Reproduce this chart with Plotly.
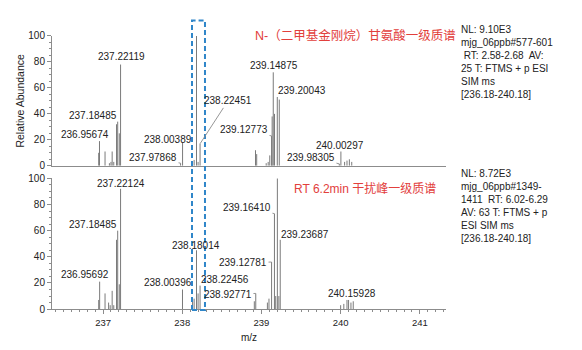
import plotly.graph_objects as go

# ---------------- data ----------------
# top spectrum (N-(dimethyladamantyl)glycine, RT 2.58-2.68)
top_mz = [236.945, 236.955, 237.025, 237.080, 237.100, 237.115, 237.135,
          237.170, 237.185, 237.205, 237.221, 237.979, 238.004, 238.120, 238.150,
          238.180, 238.200, 238.225, 238.925, 238.940, 239.060, 239.085,
          239.105, 239.128, 239.135, 239.149, 239.165, 239.200, 239.225,
          239.983, 240.003, 240.050, 240.080, 240.110, 240.140]
top_int = [10, 19, 11, 2, 3, 11, 3,
           32, 34, 25, 78, 2, 18, 2, 4.5,
           100, 3, 17, 12, 9, 2, 3,
           8, 23, 38, 72, 40, 53, 51,
           1.5, 11, 3, 4, 5, 3]

# bottom spectrum (RT 6.2 min interfering peak)
bot_mz = [236.945, 236.957, 237.025, 237.070, 237.090, 237.115, 237.135,
          237.170, 237.185, 237.205, 237.221, 238.003, 238.130, 238.150,
          238.180, 238.200, 238.225, 238.910, 238.928, 239.075, 239.095,
          239.128, 239.164, 239.180, 239.201, 239.220, 239.237,
          240.000, 240.040, 240.080, 240.100, 240.130, 240.159]
bot_int = [7, 21, 12, 5, 3, 14, 3,
           53, 60, 19, 92, 15, 8, 8,
           45, 12, 18, 6, 12, 5, 8,
           36, 73, 10, 100, 10, 53,
           3, 4, 7, 7, 5, 6]

# labels: (text, peak m/z, peak intensity, text m/z, text intensity, leader line)
top_labels = [
    ("238.18002", 238.180, 100, 238.173, 104.5, False),
    ("237.22119", 237.221, 78, 237.227, 84.3, False),
    ("237.18485", 237.185, 34, 236.874, 38.8, True),
    ("236.95674", 236.955, 19, 236.773, 23.9, False),
    ("238.00389", 238.004, 18, 237.820, 20.1, True),
    ("237.97868", 237.979, 2, 237.631, 6.0, True),
    ("238.22451", 238.225, 17, 238.577, 50.0, True),
    ("239.12773", 239.128, 23, 238.780, 27.6, True),
    ("239.14875", 239.149, 72, 239.158, 76.9, False),
    ("239.20043", 239.200, 53, 239.511, 58.2, True),
    ("240.00297", 240.003, 11, 239.990, 15.7, False),
    ("239.98305", 239.983, 1.5, 239.625, 6.7, True),
]
bot_labels = [
    ("239.20052", 239.201, 100, 239.196, 105.9, False),
    ("237.22124", 237.221, 92, 237.227, 96.3, False),
    ("237.18485", 237.185, 60, 236.874, 64.4, True),
    ("236.95692", 236.957, 21, 236.773, 26.7, False),
    ("238.00396", 238.003, 15, 237.820, 20.0, True),
    ("238.18014", 238.180, 45, 238.173, 48.9, False),
    ("238.22456", 238.225, 18, 238.539, 23.0, True),
    ("238.92771", 238.928, 12, 238.577, 11.1, True),
    ("239.12781", 239.128, 36, 238.767, 35.6, True),
    ("239.16410", 239.164, 73, 238.817, 77.8, True),
    ("239.23687", 239.237, 53, 239.549, 57.0, True),
    ("240.15928", 240.159, 6, 240.142, 11.9, False),
]

x_ticks = [237, 238, 239, 240, 241]
y_ticks = [0, 20, 40, 60, 80, 100]

top_title = "N-（二甲基金刚烷）甘氨酸一级质谱"
bot_title = "RT 6.2min 干扰峰一级质谱"
top_info = "NL: 9.10E3<br>mjg_06ppb#577-601<br> RT: 2.58-2.68  AV:<br>25 T: FTMS + p ESI<br>SIM ms<br>[236.18-240.18]"
bot_info = "NL: 8.72E3<br>mjg_06ppb#1349-<br>1411  RT: 6.02-6.29<br>AV: 63 T: FTMS + p<br>ESI SIM ms<br>[236.18-240.18]"

FONT = "Liberation Sans, Arial, Noto Sans CJK SC, sans-serif"
PEAK = "#7a7a7a"
AXIS = "#8c8c8c"
TXT = "#222222"


def sticks(mz, inten):
    xs, ys = [], []
    for m, h in zip(mz, inten):
        xs += [m, m, None]
        ys += [0, h, None]
    return xs, ys


fig = go.Figure()
tx, ty = sticks(top_mz, top_int)
bx, by = sticks(bot_mz, bot_int)
fig.add_trace(go.Scatter(x=tx, y=ty, mode="lines", line=dict(color=PEAK, width=1),
                         xaxis="x", yaxis="y", hoverinfo="skip", cliponaxis=False))
fig.add_trace(go.Scatter(x=bx, y=by, mode="lines", line=dict(color=PEAK, width=1),
                         xaxis="x2", yaxis="y2", hoverinfo="skip", cliponaxis=False))

xr = [236.355, 241.33]
common_y = dict(range=[0, 100], tickvals=y_ticks, ticks="outside", ticklen=4,
                tickcolor=AXIS, showline=True, linecolor=AXIS, linewidth=1,
                showgrid=False, zeroline=False,
                minor=dict(dtick=5, ticks="outside", ticklen=2, tickcolor=AXIS),
                tickfont=dict(family=FONT, size=10, color=TXT))

fig.update_layout(
    width=582, height=350, margin=dict(l=0, r=0, t=0, b=0),
    paper_bgcolor="white", plot_bgcolor="white", showlegend=False,
    font=dict(family=FONT, size=10, color=TXT),
    xaxis=dict(domain=[0.0893, 0.7663], range=xr, showline=True, linecolor=AXIS,
               showticklabels=False, ticks="", showgrid=False, zeroline=False,
               anchor="y"),
    yaxis=dict(domain=[0.5257, 0.9086], anchor="x",
               title=dict(text="Relative Abundance", standoff=1,
                          font=dict(family=FONT, size=10.5, color=TXT)),
               **common_y),
    xaxis2=dict(domain=[0.0893, 0.7663], range=xr, showline=True, linecolor=AXIS,
                tickvals=x_ticks, ticks="outside", ticklen=4, tickcolor=AXIS,
                minor=dict(dtick=0.1, ticks="outside", ticklen=2, tickcolor=AXIS),
                showgrid=False, zeroline=False, anchor="y2",
                tickfont=dict(family=FONT, size=9.5, color=TXT),
                title=dict(text="m/z", standoff=7,
                           font=dict(family=FONT, size=10, color=TXT))),
    yaxis2=dict(domain=[0.1029, 0.4886], anchor="x2", **common_y),
)

annotations = []
for labels, xa, ya in ((top_labels, "x", "y"), (bot_labels, "x2", "y2")):
    for text, px, py, lx, ly, lead in labels:
        if lead:
            annotations.append(dict(text=text, x=px, y=py, xref=xa, yref=ya,
                                    ax=lx, ay=ly, axref=xa, ayref=ya,
                                    showarrow=True, arrowhead=0, arrowwidth=0.9,
                                    arrowcolor="#8a8a8a", standoff=0, startstandoff=0,
                                    font=dict(family=FONT, size=10, color=TXT)))
        else:
            annotations.append(dict(text=text, x=lx, y=ly, xref=xa, yref=ya,
                                    showarrow=False, xanchor="center", yanchor="middle",
                                    font=dict(family=FONT, size=10, color=TXT)))

annotations += [
    dict(text=top_title, x=253 / 582, y=1 - 32 / 350, xref="paper", yref="paper",
         xanchor="left", yanchor="middle", showarrow=False,
         font=dict(family=FONT, size=12.5, color="#e2403c")),
    dict(text=bot_title, x=292 / 582, y=1 - 190 / 350, xref="paper", yref="paper",
         xanchor="left", yanchor="middle", showarrow=False,
         font=dict(family=FONT, size=12, color="#e2403c")),
    dict(text=top_info, x=459 / 582, y=1 - 18 / 350, xref="paper", yref="paper",
         xanchor="left", yanchor="top", align="left", showarrow=False,
         font=dict(family=FONT, size=10, color=TXT)),
    dict(text=bot_info, x=459 / 582, y=1 - 166 / 350, xref="paper", yref="paper",
         xanchor="left", yanchor="top", align="left", showarrow=False,
         font=dict(family=FONT, size=10, color=TXT)),
]
fig.update_layout(annotations=annotations)

# highlight box around the 238.18 peak
fig.add_shape(type="rect", xref="x2", yref="paper", x0=238.123, x1=238.287,
              y0=1 - 315 / 350, y1=1 - 16 / 350,
              line=dict(color="#2f86c9", width=2, dash="5px,3px"),
              fillcolor="rgba(0,0,0,0)")

fig.write_html("out.html")
